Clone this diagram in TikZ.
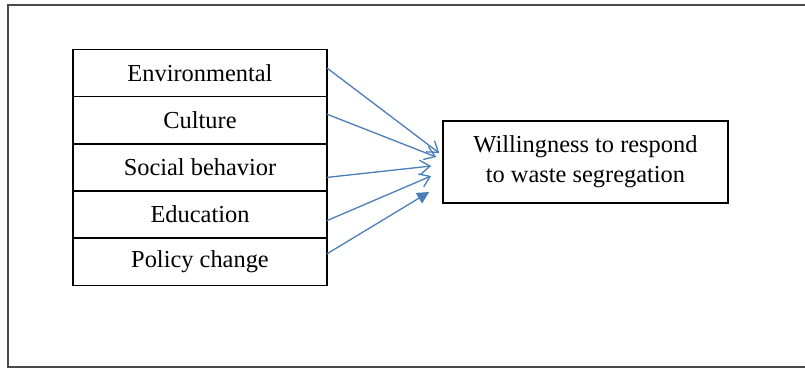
\documentclass[tikz,border=0pt]{standalone}
\usepackage{fontspec}
\setmainfont{Liberation Serif}
\usetikzlibrary{arrows.meta, positioning, calc}
\definecolor{arrowblue}{HTML}{4A7EBB}
\definecolor{framegray}{HTML}{4A4A4A}

\tikzset{
  factor/.style={draw, line width=0.8pt, minimum width=127pt, minimum height=23.6pt,
    inner sep=0pt, outer sep=0pt, font=\fontsize{12.2}{14}\selectfont},
  outcome/.style={draw, line width=0.8pt, minimum width=142.5pt, minimum height=41pt,
    align=center, font=\fontsize{12.2}{15}\selectfont},
  link/.style={arrowblue, line width=0.65pt}
}

\begin{document}
\begin{tikzpicture}[x=0.5pt, y=-0.5pt]
  \useasboundingbox (0,0) rectangle (805,370);
  \draw[framegray, line width=1.3pt] (805,5) -- (8,5) -- (8,367) -- (805,367);
  \node[factor] (env) at (200,73) {Environmental};
  \node[factor, below=0pt of env] (cul) {Culture};
  \node[factor, below=0pt of cul] (soc) {Social behavior};
  \node[factor, below=0pt of soc] (edu) {Education};
  \node[factor, below=0pt of edu] (pol) {Policy change};
  \node[outcome] (goal) at (585.5,162) {Willingness to respond\\to waste segregation};
  \foreach \n/\sy/\ex/\ey in {env/-5/-3/-9, cul/-6/-6/-5, soc/10/-11/4, edu/6/-11/14}
    \draw[link, -{Straight Barb[length=5pt, width=7pt]}] ($(\n.east)+(0,\sy)$) -- ($(goal.west)+(\ex,\ey)$);
  \draw[link, -{Triangle[length=6pt, width=6pt]}] ($(pol.east)+(0,-8)$) -- ($(goal.west)+(-13,30)$);
\end{tikzpicture}
\end{document}
